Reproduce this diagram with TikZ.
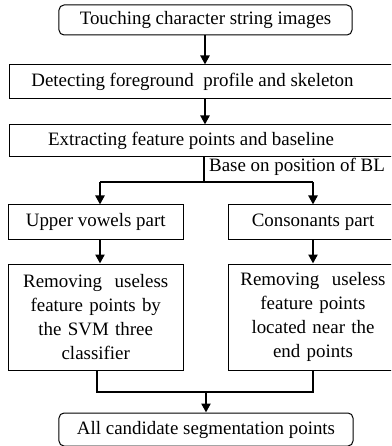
\documentclass[tikz,border=0pt]{standalone}
\usepackage{fontspec}
\setmainfont{Liberation Serif}
\usetikzlibrary{arrows.meta}
\tikzset{
  box/.style={draw=black, line width=1bp, rectangle, inner sep=0pt, align=center,
              font=\fontsize{19}{24}\selectfont},
  rbox/.style={box, rounded corners=5bp},
  conn/.style={draw=black, line width=2.6bp},
  arr/.style={conn, -{Triangle[width=9bp,length=9bp]}},
  lbl/.style={inner sep=0pt, font=\fontsize{19}{24}\selectfont}
}
\begin{document}
\begin{tikzpicture}[x=1bp,y=-1bp]
\useasboundingbox (0,0) rectangle (391,446);
\clip (0,0) rectangle (391,446);
% boxes
\node[rbox, minimum width=293bp, minimum height=30bp] (t1) at (205.5,20) {Touching character string images};
\node[box, minimum width=392bp, minimum height=34bp, anchor=west] (b2) at (8.5,82)
  {\hspace*{-25bp}Detecting foreground~ profile and skeleton};
\node[box, minimum width=392bp, minimum height=32bp, anchor=west] (b3) at (8.5,141)
  {\hspace*{-28bp}Extracting feature points and baseline};
\node[box, minimum width=175bp, minimum height=34bp] (uv) at (95.75,222) {Upper vowels part};
\node[box, minimum width=170bp, minimum height=34bp] (cp) at (313,222) {Consonants part};
\node[box, minimum width=175bp, minimum height=106bp, text width=175bp] (r1) at (95.75,317)
  {Removing~ useless\\feature points by\\the SVM three\\classifier};
\node[box, minimum width=170bp, minimum height=106bp, text width=170bp] (r2) at (313,317)
  {Removing~ useless\\feature points\\located near the\\end points};
\node[rbox, minimum width=294bp, minimum height=33bp] (bt) at (206,429.5) {All candidate segmentation points};
% label
\node[lbl, anchor=west] (bl) at (209,167) {Base on position of BL};
% connectors
\coordinate (c1) at (205,0);
\draw[arr] (t1.south -| c1) -- (b2.north -| c1);
\draw[arr] (b2.south -| c1) -- (b3.north -| c1);
\coordinate (j1) at (204,182);
\coordinate (lx) at (100,182);
\coordinate (rx) at (313,182);
\draw[conn] (b3.south -| j1) -- (j1);
\draw[conn] (lx) -- (rx);
\draw[arr] (lx) -- (lx |- uv.north);
\draw[arr] (rx) -- (rx |- cp.north);
\draw[arr] (lx |- uv.south) -- (lx |- r1.north);
\draw[arr] (rx |- cp.south) -- (rx |- r2.north);
\coordinate (ly) at (97,392);
\coordinate (ry) at (313,392);
\coordinate (my) at (206,392);
\draw[conn] (ly |- r1.south) -- (ly) -- (ry) -- (ry |- r2.south);
\draw[arr] (my) -- (bt.north -| my);
\end{tikzpicture}
\end{document}
